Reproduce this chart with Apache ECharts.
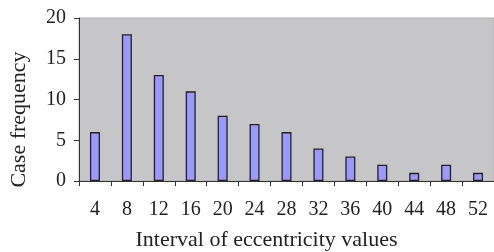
<!DOCTYPE html>
<html>
<head>
<meta charset="utf-8">
<script src="https://cdn.jsdelivr.net/npm/echarts@6/dist/echarts.min.js"></script>
<style>
html,body{margin:0;padding:0;background:#fff;}
#main{width:494px;height:252px;}
</style>
</head>
<body>
<div id="main"></div>
<script>
var intervals = ['4','8','12','16','20','24','28','32','36','40','44','48','52'];
var frequency = [6, 18, 13, 11, 8, 7, 6, 4, 3, 2, 1, 2, 1];

var chart = echarts.init(document.getElementById('main'));
var option = {
    animation: false,
    backgroundColor: '#ffffff',
    textStyle: { fontFamily: 'Liberation Serif', fontSize: 20, color: '#222' },
    grid: {
        left: 79, top: 18, right: 0, bottom: 71,
        outerBoundsMode: 'none',
        containLabel: false,
        show: true,
        backgroundColor: '#c6c6c8',
        borderColor: '#b0b0b0',
        borderWidth: 1
    },
    xAxis: {
        type: 'category',
        data: intervals,
        name: 'Interval of eccentricity values',
        nameLocation: 'middle',
        nameGap: 48,
        // shifted left a bit, like the original
        nameTextStyle: { fontFamily: 'Liberation Serif', fontSize: 22, color: '#222', padding: [0, 40, 0, 0] },
        axisLine: { lineStyle: { color: '#333', width: 1 } },
        axisTick: { show: true, alignWithLabel: false, length: 5, lineStyle: { color: '#333' } },
        axisLabel: { margin: 19, fontFamily: 'Liberation Serif', fontSize: 20, color: '#222' }
    },
    yAxis: {
        type: 'value',
        min: 0, max: 20, interval: 5,
        name: 'Case frequency',
        nameLocation: 'middle',
        nameGap: 49,
        // moved down a bit
        nameTextStyle: { fontFamily: 'Liberation Serif', fontSize: 22, color: '#222', padding: [0, 40, 0, 0] },
        axisLine: { show: true, lineStyle: { color: '#333', width: 1 } },
        axisTick: { show: true, length: 5, lineStyle: { color: '#333' } },
        axisLabel: { margin: 13, fontFamily: 'Liberation Serif', fontSize: 20, color: '#222' },
        splitLine: { show: false }
    },
    series: [{
        type: 'bar',
        data: frequency,
        barWidth: 10,
        itemStyle: { color: '#9999ff', borderColor: '#222', borderWidth: 1.3 }
    }]
};
chart.setOption(option);
</script>
</body>
</html>
